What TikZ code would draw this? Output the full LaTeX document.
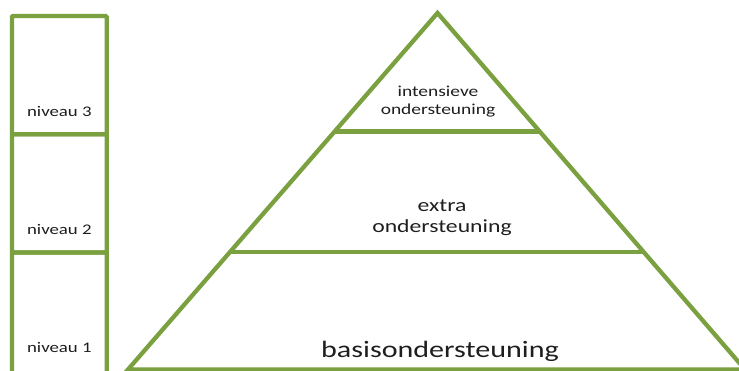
\documentclass[tikz,border=0pt]{standalone}
\usepackage{fontspec}
\setmainfont{Carlito}
\usetikzlibrary{positioning, calc}
\definecolor{lvgreen}{RGB}{122,160,64}
\definecolor{lvtext}{RGB}{30,30,30}

\begin{document}
\begin{tikzpicture}[x=1pt, y=-1pt,
    lvline/.style={draw=lvgreen, line width=4.3pt},
    lvbox/.style={lvline, rectangle, rounded corners=1pt, inner sep=0pt, outer sep=0pt,
        minimum width=94.7pt, minimum height=118.3pt},
    lbl/.style={text=lvtext, inner sep=0pt, outer sep=0pt, align=center, xscale=1.28}]

\useasboundingbox (0,0) rectangle (739,371);

% niveaus
\node[lvbox, anchor=north west] (niveau3) at (12,16) {};
\node[lvbox, below=0pt of niveau3] (niveau2) {};
\node[lvbox, below=0pt of niveau2, minimum height=124pt] (niveau1) {};

\node[lbl, font=\fontsize{14.7}{17}\selectfont, above=17.8pt of niveau3.south] (niveau3L) {niveau 3};
\node[lbl, font=\fontsize{14.7}{17}\selectfont, above=17.8pt of niveau2.south] (niveau2L) {niveau 2};
\node[lbl, font=\fontsize{14.7}{17}\selectfont, above=23.5pt of niveau1.south] (niveau1L) {niveau 1};

% -------

\coordinate (apex) at (437.5,13);
\coordinate (baseL) at (128,369.5);
\coordinate (baseR) at (745,369.5);
\coordinate (d1L) at ($(apex)!0.332!(baseL)$);
\coordinate (d1R) at ($(apex)!0.332!(baseR)$);
\coordinate (d2L) at ($(apex)!0.670!(baseL)$);
\coordinate (d2R) at ($(apex)!0.670!(baseR)$);

\draw[lvline, line join=miter] (baseL) -- (apex) -- (baseR) -- cycle;
\draw[lvline] (d1L) -- (d1R);
\draw[lvline] (d2L) -- (d2R);

\node[lbl, font=\fontsize{15.2}{18.3}\selectfont] (intensief) at (438,101.5) {intensieve\\ondersteuning};
\node[lbl, font=\fontsize{18.5}{21}\selectfont] (extra) at (442,218) {extra\\ondersteuning};
\node[lbl, font=\fontsize{23.5}{28}\selectfont, anchor=base] (basis) at (440,357.7) {basisondersteuning};

\end{tikzpicture}
\end{document}
